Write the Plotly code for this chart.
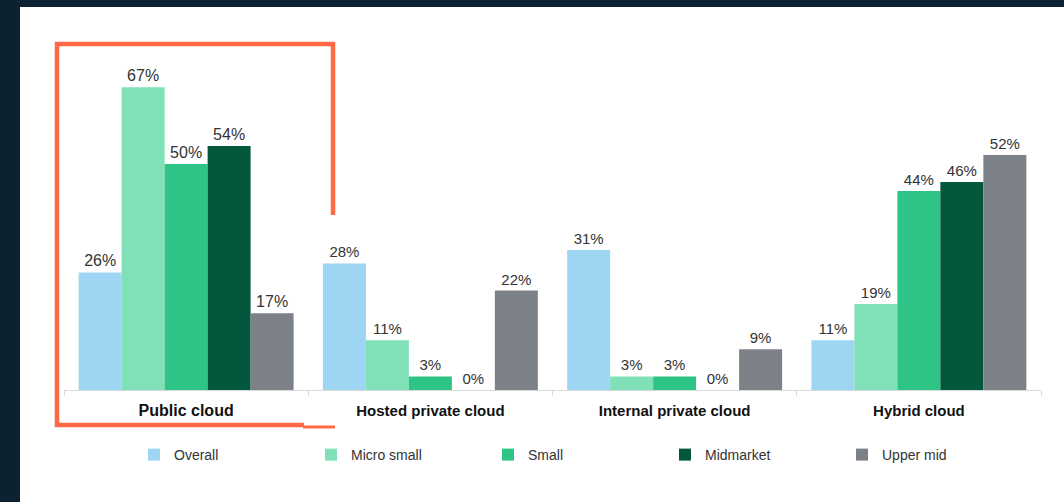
import plotly.graph_objects as go

categories = ["Public cloud", "Hosted private cloud", "Internal private cloud", "Hybrid cloud"]
category_labels = ["<span style='font-size:16px'>Public cloud</span>", "Hosted private cloud",
                   "Internal private cloud", "Hybrid cloud"]
series_names = ["Overall", "Micro small", "Small", "Midmarket", "Upper mid"]
overall = [26, 28, 31, 11]
micro_small = [67, 11, 3, 19]
small = [50, 3, 3, 44]
midmarket = [54, 0, 0, 46]
upper_mid = [17, 22, 9, 52]
series_values = [overall, micro_small, small, midmarket, upper_mid]
colors = ["#9DD5F3", "#80E0B8", "#2EC486", "#02573D", "#7C8087"]

W, H = 1064, 502
L, R, T, B = 64, 1041, 51, 390


def px(x):
    return (x - L) / (R - L)


def py(y):
    return (B - y) / (B - T)


fig = go.Figure()
for name, vals, col in zip(series_names, series_values, colors):
    fig.add_trace(go.Bar(
        name=name, x=categories, y=vals,
        marker=dict(color=col, line=dict(width=0)),
        texttemplate="%{y}%", textposition="outside",
        textfont=dict(family="Liberation Sans, Arial", color="#333333",
                      size=[16, 15, 15, 15]),
        cliponaxis=False,
    ))

shapes = [
    # dark frame strips
    dict(type="rect", xref="paper", yref="paper", x0=px(0), x1=px(20), y0=py(0), y1=py(H),
         fillcolor="#0C2230", line=dict(width=0), layer="below"),
    dict(type="rect", xref="paper", yref="paper", x0=px(0), x1=px(W), y0=py(0), y1=py(7),
         fillcolor="#0C2230", line=dict(width=0), layer="below"),
    # orange highlight
    dict(type="path", xref="paper", yref="paper",
         path=f"M{px(333)},{py(215)} L{px(333)},{py(44)} L{px(57)},{py(44)} L{px(57)},{py(425)} L{px(304)},{py(425)}",
         line=dict(color="#FF6A45", width=4.5), layer="above"),
    dict(type="line", xref="paper", yref="paper", x0=px(303), x1=px(335), y0=py(427), y1=py(427),
         line=dict(color="#FF6A45", width=3), layer="above"),
]

fig.update_layout(
    width=W, height=H,
    margin=dict(l=L, r=W - R, t=T, b=H - B),
    paper_bgcolor="white", plot_bgcolor="white",
    barmode="group", bargap=0.12, bargroupgap=0,
    font=dict(family="Liberation Sans, Arial", color="#333333"),
    xaxis=dict(
        showgrid=False, showline=True, linecolor="#D9D9D9", linewidth=1,
        ticks="outside", tickson="boundaries", ticklen=5, tickcolor="#D9D9D9",
        tickmode="array", tickvals=categories, ticktext=category_labels,
        ticklabelstandoff=7,
        tickfont=dict(family="Liberation Sans, Arial", size=15, color="#111111", weight="bold"),
    ),
    yaxis=dict(range=[0, 75], visible=False),
    showlegend=True,
    legend=dict(
        orientation="h", x=px(134), xanchor="left", y=py(439), yanchor="top",
        entrywidth=132, entrywidthmode="pixels",
        font=dict(family="Liberation Sans, Arial", size=14, color="#333333"),
        bgcolor="rgba(0,0,0,0)",
    ),
    shapes=shapes,
)

fig.write_html("out.html")
